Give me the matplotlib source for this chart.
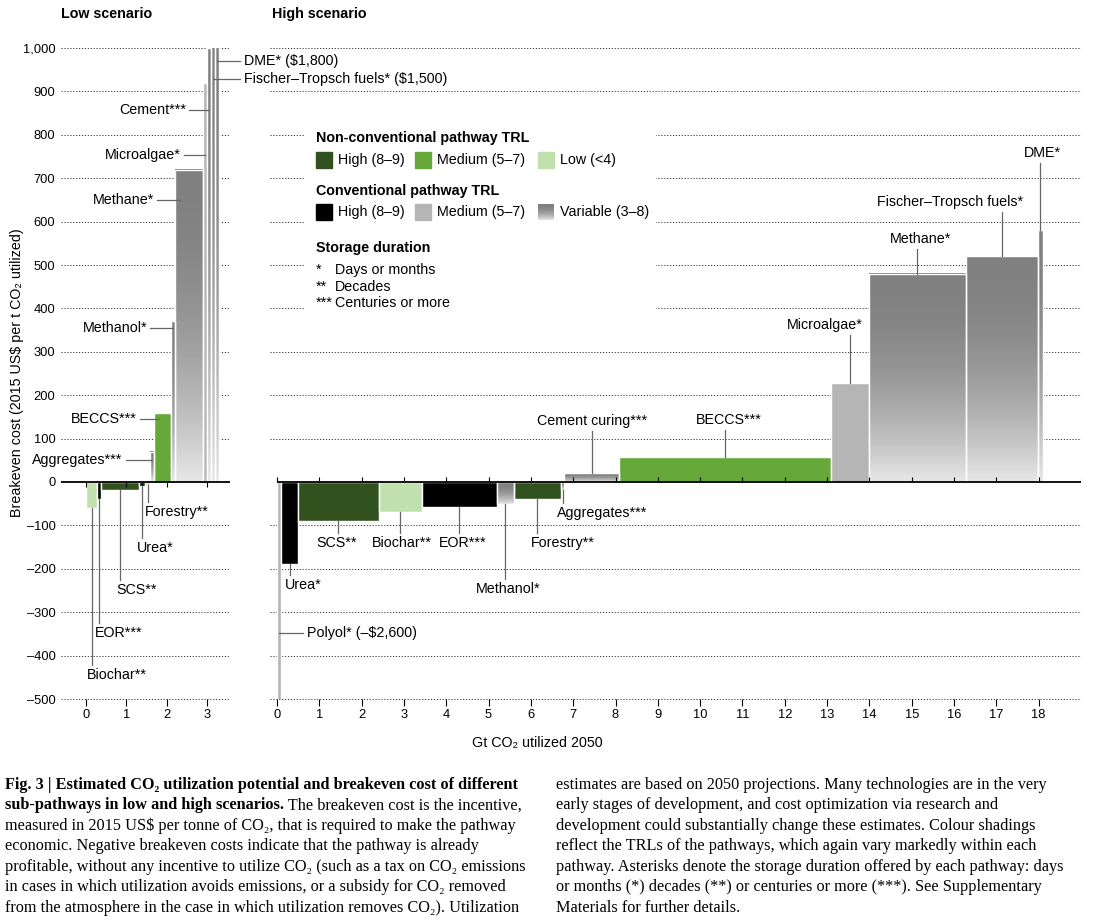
import numpy as np
import matplotlib
matplotlib.use('Agg')
import matplotlib.pyplot as plt
from matplotlib.patches import Rectangle

W, H = 1098, 923
plt.rcParams['font.family'] = ['Liberation Sans', 'DejaVu Sans']

# data: width = Gt CO2 utilized, height = breakeven cost
low_names = ['Biochar**', 'EOR***', 'SCS**', 'Urea*', 'Forestry**', 'Aggregates***',
             'BECCS***', 'Methanol*', 'Methane*', 'Microalgae*', 'Cement***',
             'Fischer–Tropsch fuels*', 'DME*']
low_gt = [0.28, 0.10, 0.92, 0.16, 0.12, 0.10, 0.42, 0.10, 0.70, 0.08, 0.10, 0.10, 0.10]
low_cost = [-60, -40, -18, -10, -6, 70, 160, 370, 720, 920, 1000, 1500, 1800]
low_trl = ['nc_low', 'c_high', 'nc_high', 'c_high', 'nc_low', 'c_var', 'nc_med',
           'c_var', 'c_var', 'c_med', 'c_var', 'c_var', 'c_var']

high_names = ['Polyol*', 'Urea*', 'SCS**', 'Biochar**', 'EOR***', 'Methanol*', 'Forestry**',
              'Aggregates***', 'Cement curing***', 'BECCS***', 'Microalgae*', 'Methane*',
              'Fischer–Tropsch fuels*', 'DME*']
high_gt = [0.10, 0.40, 1.90, 1.02, 1.77, 0.41, 1.11, 0.08, 1.30, 5.00, 0.89, 2.30, 1.70, 0.12]
high_cost = [-2600, -190, -90, -70, -57, -50, -40, -18, 20, 58, 228, 480, 520, 580]
high_trl = ['c_med', 'c_high', 'nc_high', 'nc_low', 'c_high', 'c_var', 'nc_high', 'c_var',
            'c_var', 'nc_med', 'c_med', 'c_var', 'c_var', 'c_var']

y_ticks = list(range(-500, 1001, 100))
low_xticks = [0, 1, 2, 3]
high_xticks = list(range(0, 19))
YMIN, YMAX = -500, 1000

colours = {'nc_high': '#31521f', 'nc_med': '#67a83b', 'nc_low': '#c0e0ae',
           'c_high': '#000000', 'c_med': '#b5b5b5'}

FS = 10.3
LEAD = '#666666'


def fx(p):
    return p / W


def fy(p):
    return 1 - p / H


def gradient(n=64):
    t = np.linspace(0, 1, n)
    g = 0.50 + 0.40 * (1 - t) ** 2
    return np.repeat(g[:, None], 2, axis=1)


def draw_bars(ax, gt, cost, trl):
    lefts = np.concatenate([[0], np.cumsum(gt)[:-1]])
    for x0, w, c, t in zip(lefts, gt, cost, trl):
        if t == 'c_var':
            cc = min(max(c, YMIN), YMAX)
            ax.imshow(gradient(), extent=[x0, x0 + w, min(0, cc), max(0, cc)],
                      origin='lower', cmap='gray', vmin=0, vmax=1, aspect='auto',
                      interpolation='bilinear', zorder=2)
            ax.bar(x0, c, w, align='edge', fill=False, edgecolor='white',
                   linewidth=1, zorder=3)
        else:
            ax.bar(x0, c, w, align='edge', color=colours[t], edgecolor='white',
                   linewidth=1, zorder=2)
    return lefts


def draw_labels(ax, lefts, names, gt, cost, layout, px_per_unit):
    gy = 23  # about 10 px in data units
    for name, (kind, tx, ty, ha, text) in layout.items():
        i = names.index(name)
        cx = lefts[i] + gt[i] / 2
        text = text or name
        if kind == 'left':
            xin = min(cx, lefts[i] + 0.12)
            ax.plot([tx + 3 / px_per_unit, xin], [ty, ty], color=LEAD, lw=0.9,
                    zorder=5, clip_on=False)
        elif kind == 'right':
            ax.plot([cx, tx - 4 / px_per_unit], [ty, ty], color=LEAD, lw=0.9,
                    zorder=5, clip_on=False)
        elif kind == 'down':
            ax.plot([cx, cx], [cost[i], ty + gy], color=LEAD, lw=0.9, zorder=5)
        else:
            ax.plot([cx, cx], [min(cost[i], YMAX), ty - gy], color=LEAD, lw=0.9, zorder=5)
        ax.text(tx, ty, text, ha=ha, va='center', fontsize=FS, zorder=6)


low_layout = {
    'Biochar**': ('down', 0.02, -445, 'left', None),
    'EOR***': ('down', 0.22, -348, 'left', None),
    'SCS**': ('down', 0.74, -249, 'left', None),
    'Urea*': ('down', 1.26, -152, 'left', None),
    'Forestry**': ('down', 1.46, -69, 'left', None),
    'Aggregates***': ('left', 0.91, 51, 'right', None),
    'BECCS***': ('left', 1.26, 145, 'right', None),
    'Methanol*': ('left', 1.51, 355, 'right', None),
    'Methane*': ('left', 1.68, 650, 'right', None),
    'Microalgae*': ('left', 2.35, 753, 'right', None),
    'Cement***': ('left', 2.47, 857, 'right', None),
    'Fischer–Tropsch fuels*': ('right', 3.9, 928, 'left', 'Fischer–Tropsch fuels* ($1,500)'),
    'DME*': ('right', 3.9, 970, 'left', 'DME* ($1,800)'),
}
high_layout = {
    'Polyol*': ('right', 0.70, -348, 'left', 'Polyol* (–$2,600)'),
    'Urea*': ('down', 0.61, -237, 'center', None),
    'SCS**': ('down', 1.42, -141, 'center', None),
    'Biochar**': ('down', 2.95, -141, 'center', None),
    'EOR***': ('down', 4.39, -141, 'center', None),
    'Methanol*': ('down', 5.47, -247, 'center', None),
    'Forestry**': ('down', 6.75, -141, 'center', None),
    'Aggregates***': ('down', 7.69, -72, 'center', None),
    'Cement curing***': ('up', 7.45, 141, 'center', None),
    'BECCS***': ('up', 10.68, 143, 'center', None),
    'Microalgae*': ('up', 12.95, 362, 'center', None),
    'Methane*': ('up', 15.22, 561, 'center', None),
    'Fischer–Tropsch fuels*': ('up', 15.9, 646, 'center', None),
    'DME*': ('up', 18.08, 757, 'center', None),
}

fig = plt.figure(figsize=(W / 100, H / 100), dpi=100)
ax_lo = fig.add_axes([fx(61), fy(699), 169 / W, 651 / H])
ax_hi = fig.add_axes([fx(270), fy(699), 811 / W, 651 / H])

for ax in (ax_lo, ax_hi):
    ax.patch.set_visible(False)
    for sp in ax.spines.values():
        sp.set_visible(False)
    for v in y_ticks:
        if v != 0:
            ax.axhline(v, color='#333333', lw=0.7, ls=(0, (1.2, 1.8)), zorder=1, clip_on=False)
    ax.tick_params(axis='x', length=5, width=0.8, direction='out', pad=2, labelsize=9.3)

# low scenario
lefts_lo = draw_bars(ax_lo, low_gt, low_cost, low_trl)
ax_lo.axhline(0, color='black', lw=1.3, zorder=4)
ax_lo.vlines(low_xticks, -11, 0, color='black', lw=0.8, zorder=4)
draw_labels(ax_lo, lefts_lo, low_names, low_gt, low_cost, low_layout, 40.5)
ax_lo.set_xticks(low_xticks)
ax_lo.set_yticks(y_ticks, [f'{v:,}'.replace('-', '–') for v in y_ticks])
ax_lo.tick_params(axis='y', length=0, pad=4, labelsize=9.3)
ax_lo.set_xlim(-0.617, 3.556)
ax_lo.set_ylim(YMIN, YMAX)

# high scenario
lefts_hi = draw_bars(ax_hi, high_gt, high_cost, high_trl)
ax_hi.plot([0, 19], [0, 0], color='black', lw=1.3, zorder=4, solid_capstyle='butt')
ax_hi.vlines(range(0, 20), 0, 11, color='black', lw=0.8, zorder=4)
draw_labels(ax_hi, lefts_hi, high_names, high_gt, high_cost, high_layout, 42.4)
ax_hi.set_xticks(high_xticks)
ax_hi.set_yticks([])
ax_hi.set_xlim(-0.165, 19)
ax_hi.set_ylim(YMIN, YMAX)

# titles and axis labels
fig.text(fx(61), fy(14), 'Low scenario', fontsize=FS, weight='bold', va='center')
fig.text(fx(272), fy(14), 'High scenario', fontsize=FS, weight='bold', va='center')
fig.text(fx(17), fy(373), 'Breakeven cost (2015 US$ per t CO₂ utilized)', rotation=90,
         ha='center', va='center', fontsize=FS)
fig.text(fx(537), fy(743), 'Gt CO₂ utilized 2050', ha='center', va='center', fontsize=FS)

# legend
fig.add_artist(Rectangle((fx(305), fy(318)), 350 / W, 195 / H, transform=fig.transFigure,
                         color='white', zorder=1))
fig.text(fx(316), fy(138), 'Non-conventional pathway TRL', fontsize=FS, weight='bold', va='center')
fig.text(fx(316), fy(191), 'Conventional pathway TRL', fontsize=FS, weight='bold', va='center')
fig.text(fx(316), fy(248), 'Storage duration', fontsize=FS, weight='bold', va='center')
rows = [(160, [('nc_high', 'High (8–9)'), ('nc_med', 'Medium (5–7)'), ('nc_low', 'Low (<4)')]),
        (212, [('c_high', 'High (8–9)'), ('c_med', 'Medium (5–7)'), ('c_var', 'Variable (3–8)')])]
for yc, items in rows:
    for xs, (key, lab) in zip([316, 415, 538], items):
        if key == 'c_var':
            sw = fig.add_axes([fx(xs), fy(yc + 8), 16 / W, 16 / H])
            sw.imshow(gradient(), origin='lower', cmap='gray', vmin=0, vmax=1,
                      aspect='auto', interpolation='bilinear')
            sw.axis('off')
            sw.set_zorder(5)
        else:
            fig.add_artist(Rectangle((fx(xs), fy(yc + 8)), 16 / W, 16 / H,
                                     transform=fig.transFigure, color=colours[key], zorder=2))
        fig.text(fx(xs + 22), fy(yc), lab, fontsize=FS, va='center')
for yc, star, lab in [(270, '*', 'Days or months'), (287, '**', 'Decades'),
                      (303, '***', 'Centuries or more')]:
    fig.text(fx(316), fy(yc), star, fontsize=FS, va='center')
    fig.text(fx(335), fy(yc), lab, fontsize=FS, va='center')

# caption
left_lines = [
    'Fig. 3 | Estimated CO₂ utilization potential and breakeven cost of different',
    ('sub-pathways in low and high scenarios.', ' The breakeven cost is the incentive,'),
    'measured in 2015 US$ per tonne of CO₂, that is required to make the pathway',
    'economic. Negative breakeven costs indicate that the pathway is already',
    'profitable, without any incentive to utilize CO₂ (such as a tax on CO₂ emissions',
    'in cases in which utilization avoids emissions, or a subsidy for CO₂ removed',
    'from the atmosphere in the case in which utilization removes CO₂). Utilization',
]
right_lines = [
    'estimates are based on 2050 projections. Many technologies are in the very',
    'early stages of development, and cost optimization via research and',
    'development could substantially change these estimates. Colour shadings',
    'reflect the TRLs of the pathways, which again vary markedly within each',
    'pathway. Asterisks denote the storage duration offered by each pathway: days',
    'or months (*) decades (**) or centuries or more (***). See Supplementary',
    'Materials for further details.',
]
cap_fam = ['Liberation Serif', 'DejaVu Serif']
renderer = fig.canvas.get_renderer()
probe = fig.text(0, 0, left_lines[2], fontsize=10, family=cap_fam)
cs = 10 * 508 / probe.get_window_extent(renderer=renderer).width
probe.remove()

for k in range(7):
    yc = fy(785 + 20.45 * k)
    line = left_lines[k]
    if k == 0:
        fig.text(fx(5), yc, line, fontsize=cs, family=cap_fam, weight='bold', va='center')
    elif k == 1:
        b = fig.text(fx(5), yc, line[0], fontsize=cs, family=cap_fam, weight='bold', va='center')
        x1 = b.get_window_extent(renderer=renderer).x1
        fig.text(x1 / W, yc, line[1], fontsize=cs, family=cap_fam, va='center')
    else:
        fig.text(fx(5), yc, line, fontsize=cs, family=cap_fam, va='center')
    fig.text(fx(556), yc, right_lines[k], fontsize=cs, family=cap_fam, va='center')

fig.savefig('out.png', dpi=100)
